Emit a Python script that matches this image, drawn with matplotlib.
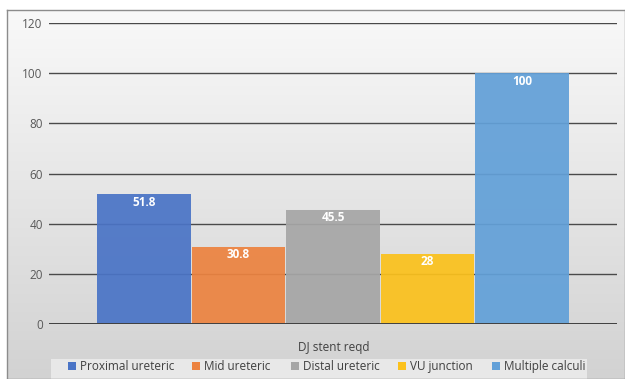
import numpy as np
import matplotlib
matplotlib.use("Agg")
import matplotlib.pyplot as plt
from matplotlib.patches import Rectangle
from matplotlib.colors import LinearSegmentedColormap

categories = ["Proximal ureteric", "Mid ureteric", "Distal ureteric", "VU junction", "Multiple calculi"]
values = [51.8, 30.8, 45.5, 28, 100]
value_labels = ["51.8", "30.8", "45.5", "28", "100"]
colors = ["#4a74c6", "#ec8340", "#a6a6a6", "#fbc11c", "#62a0d8"]
group_label = "DJ stent reqd"
yticks = [0, 20, 40, 60, 80, 100, 120]

plt.rcParams["font.family"] = ["Open Sans", "DejaVu Sans"]
FS = 8.5

W, H = 625, 379
fig = plt.figure(figsize=(W / 100, H / 100), dpi=100)
fig.patch.set_facecolor("white")

# background panel with vertical gradient
bg = fig.add_axes([7 / W, 0, 1 - 7 / W, 1 - 10 / H])
grad = np.linspace(0, 1, 256).reshape(-1, 1)
cmap = LinearSegmentedColormap.from_list("bg", ["#f9f9f9", "#d2d2d2"])
bg.imshow(grad, aspect="auto", cmap=cmap, extent=[0, 1, 0, 1], origin="upper")
bg.set_xlim(0, 1)
bg.set_ylim(0, 1)
bg.set_xticks([])
bg.set_yticks([])
for s in bg.spines.values():
    s.set_color("#8c8c8c")
    s.set_linewidth(1.0)

# legend strip
bg.add_patch(Rectangle(((51 - 7) / (W - 7), 0), (587 - 51) / (W - 7), (H - 359) / (H - 10),
                       transform=bg.transAxes, facecolor="#e8e8e8", edgecolor="none", zorder=2))

ax = fig.add_axes([49 / W, (H - 324) / H, (617 - 49) / W, (324 - 23) / H])
ax.patch.set_alpha(0)
n = len(values)
bw = 0.1665
offsets = (np.arange(n) - (n - 1) / 2) * bw
bars = ax.bar(offsets, values, width=bw * 0.99, color=colors, alpha=0.93, zorder=2)
for b, lab in zip(bars, value_labels):
    ax.text(b.get_x() + b.get_width() / 2, b.get_height() - 3.2, lab, ha="center", va="center",
            color="white", fontsize=FS, fontweight="bold", zorder=4)

ax.set_xlim(-0.5, 0.5)
ax.set_ylim(0, 120)
ax.set_yticks(yticks)
ax.set_yticklabels([str(t) for t in yticks], color="#595959", fontsize=FS)
ax.tick_params(axis="y", length=0, pad=4.5)
ax.set_xticks([])
ax.grid(axis="y", color="#4a4a4a", linewidth=1.0, zorder=1)
ax.set_axisbelow(True)
for s in ax.spines.values():
    s.set_visible(False)
ax.axhline(0, color="#404040", linewidth=1.4, zorder=3)

fig.text(334 / W, 1 - 347 / H, group_label, ha="center", va="center", fontsize=FS, color="#404040")

# legend entries
leg_x = [68, 192, 291, 398, 492]
for x, c, lab in zip(leg_x, colors, categories):
    fig.patches.append(Rectangle((x / W, 1 - 369.5 / H), 8 / W, 8 / H, transform=fig.transFigure,
                                 facecolor=c, edgecolor="none"))
    fig.text((x + 12) / W, 1 - 366.5 / H, lab, ha="left", va="center", fontsize=FS, color="#404040")

fig.savefig("out.png", dpi=100)
